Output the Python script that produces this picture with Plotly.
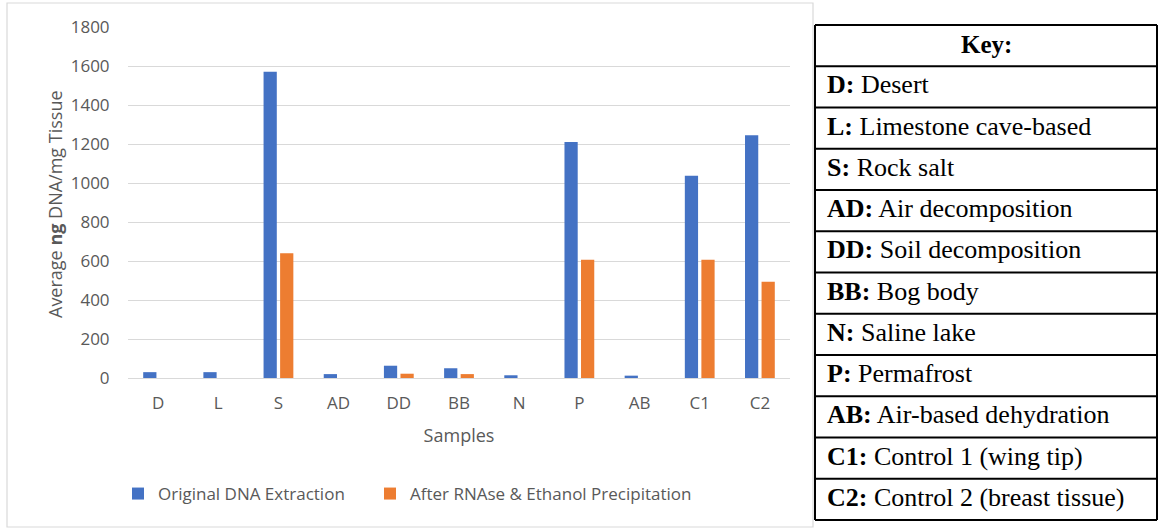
import plotly.graph_objects as go

# ---- data ----
samples = ["D", "L", "S", "AD", "DD", "BB", "N", "P", "AB", "C1", "C2"]
original = [30, 30, 1570, 20, 63, 50, 14, 1210, 12, 1037, 1245]
after_rnase = [0, 0, 640, 0, 22, 20, 0, 607, 0, 607, 494]
series_names = ["Original DNA Extraction", "After RNAse & Ethanol Precipitation"]

key_header = "Key:"
key_codes = ["D", "L", "S", "AD", "DD", "BB", "N", "P", "AB", "C1", "C2"]
key_names = ["Desert", "Limestone cave-based", "Rock salt", "Air decomposition",
             "Soil decomposition", "Bog body", "Saline lake", "Permafrost",
             "Air-based dehydration", "Control 1 (wing tip)", "Control 2 (breast tissue)"]

# ---- layout geometry (pixels) ----
W, H = 1158, 529
L, R, T, B = 128, 790, 27, 378
PW, PH = R - L, B - T


def xp(px):
    return (px - L) / PW


def yp(py):
    return (B - py) / PH


GRAY = "#595959"
FONT = "Open Sans"

fig = go.Figure()
fig.add_trace(go.Bar(x=samples, y=original, name=series_names[0], legend="legend",
                     marker=dict(color="#4472C4", line=dict(width=0))))
fig.add_trace(go.Bar(x=samples, y=after_rnase, name=series_names[1], legend="legend2",
                     marker=dict(color="#ED7D31", line=dict(width=0))))

shapes = []
annotations = []

# chart outer border
shapes.append(dict(type="rect", xref="paper", yref="paper",
                   x0=xp(7), x1=xp(813), y0=yp(527), y1=yp(3),
                   line=dict(color="#d9d9d9", width=1.2), layer="below"))

# y-axis title
annotations.append(dict(xref="paper", yref="paper", x=xp(55), y=yp(204),
                        text="Average <b>ng</b> DNA/mg Tissue", textangle=-90,
                        showarrow=False, font=dict(family=FONT, size=18, color=GRAY),
                        xanchor="center", yanchor="middle"))

# key table
tx0, tx1 = 815, 1157
row_top = 25
row_h = (520 - 25) / 12
for i in range(13):
    yy = row_top + i * row_h
    shapes.append(dict(type="line", xref="paper", yref="paper",
                       x0=xp(tx0), x1=xp(tx1), y0=yp(yy), y1=yp(yy),
                       line=dict(color="black", width=2)))
for xx in (tx0, tx1):
    shapes.append(dict(type="line", xref="paper", yref="paper",
                       x0=xp(xx), x1=xp(xx), y0=yp(row_top), y1=yp(row_top + 12 * row_h),
                       line=dict(color="black", width=2)))

annotations.append(dict(xref="paper", yref="paper", x=xp((tx0 + tx1) / 2),
                        y=yp(row_top + row_h / 2 - 1), text="<b>" + key_header + "</b>",
                        showarrow=False,
                        font=dict(family="Liberation Serif", size=25, color="black"),
                        xanchor="center", yanchor="middle"))
for i, (c, n) in enumerate(zip(key_codes, key_names)):
    yy = row_top + (i + 1.5) * row_h - 2
    annotations.append(dict(xref="paper", yref="paper", x=xp(825), y=yp(yy),
                            text="<b>" + c + ":</b> " + n, showarrow=False,
                            font=dict(family="Liberation Serif", size=26, color="black"),
                            xanchor="left", yanchor="middle"))

legend_common = dict(orientation="h", yanchor="middle", xanchor="left",
                     font=dict(family=FONT, size=17, color=GRAY), itemwidth=30,
                     bgcolor="rgba(0,0,0,0)")
fig.update_layout(
    width=W, height=H,
    margin=dict(l=L, r=W - R, t=T, b=H - B),
    paper_bgcolor="white", plot_bgcolor="white",
    barmode="group", bargap=0.45, bargroupgap=0.2,
    font=dict(family=FONT, color=GRAY, size=17),
    showlegend=True,
    legend=dict(x=xp(118), y=yp(494), **legend_common),
    legend2=dict(x=xp(370), y=yp(494), **legend_common),
    shapes=shapes, annotations=annotations,
)
fig.update_yaxes(range=[0, 1800], dtick=200, showgrid=True, gridcolor="#d9d9d9", gridwidth=1.3,
                 zeroline=False, showline=False, tickfont=dict(size=17, color=GRAY),
                 ticks="outside", ticklen=14, tickcolor="rgba(0,0,0,0)", fixedrange=True)
fig.update_xaxes(showline=True, linecolor="#d9d9d9", linewidth=1.3,
                 tickfont=dict(size=17, color=GRAY),
                 ticks="outside", ticklen=9, tickcolor="rgba(0,0,0,0)",
                 title=dict(text="Samples", font=dict(size=18, color=GRAY), standoff=16))

fig.write_html("out.html", config={"displayModeBar": False},
               post_script="document.body.style.margin='0';")
